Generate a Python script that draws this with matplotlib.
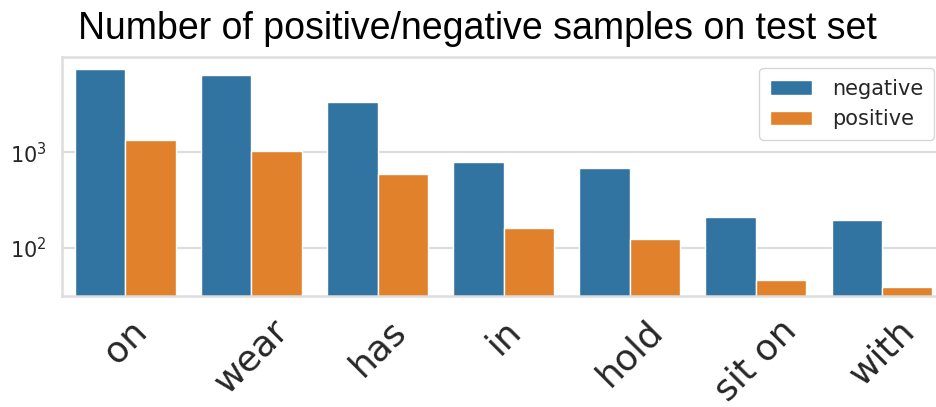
import matplotlib
matplotlib.use("Agg")
import matplotlib.pyplot as plt
import seaborn as sns
import pandas as pd

# counts
relations = ["on", "wear", "has", "in", "hold", "sit on", "with"]
negative = [7550, 6530, 3420, 785, 685, 210, 194]
positive = [1360, 1025, 597, 162, 122, 46, 39]

sns.set_style("whitegrid", {"grid.color": "#dddddd", "axes.edgecolor": "#dddddd"})

df = pd.DataFrame({
    "relation": relations * 2,
    "count": negative + positive,
    "label": ["negative"] * len(relations) + ["positive"] * len(relations),
})

fig = plt.figure(figsize=(9.36, 4.07), dpi=100)
ax = fig.add_axes([0.0666, 0.2727, 1.0097 - 0.0666, 0.8591 - 0.2727])

sns.barplot(data=df, x="relation", y="count", hue="label", order=relations,
            hue_order=["negative", "positive"], ax=ax, errorbar=None)
ax.set_yscale("log")
ax.set_ylim(31, 9950)
ax.set_xlim(-0.5, 6.5)
ax.set_xlabel("")
ax.set_ylabel("")
ax.tick_params(axis="y", labelsize=15, pad=8)
ax.tick_params(axis="x", labelsize=26, pad=9)
plt.setp(ax.get_xticklabels(), rotation=45)
ax.yaxis.grid(True, which="major", linewidth=1.6)
ax.yaxis.grid(False, which="minor")
ax.xaxis.grid(False)
for s in ax.spines.values():
    s.set_linewidth(1.8)

handles, labels = ax.get_legend_handles_labels()
ax.legend(handles, labels, title=None, fontsize=15, loc="upper right",
          bbox_to_anchor=(934 / 936, 1 - 68.3 / 407),
          bbox_transform=fig.transFigure, borderaxespad=0, handletextpad=1.0,
          borderpad=0.5)

fig.text(477 / 936, 1 - 39.3 / 407, "Number of positive/negative samples on test set",
         ha="center", va="baseline", fontsize=27, family="Liberation Sans",
         color="black")

fig.savefig("out.png", dpi=100)
